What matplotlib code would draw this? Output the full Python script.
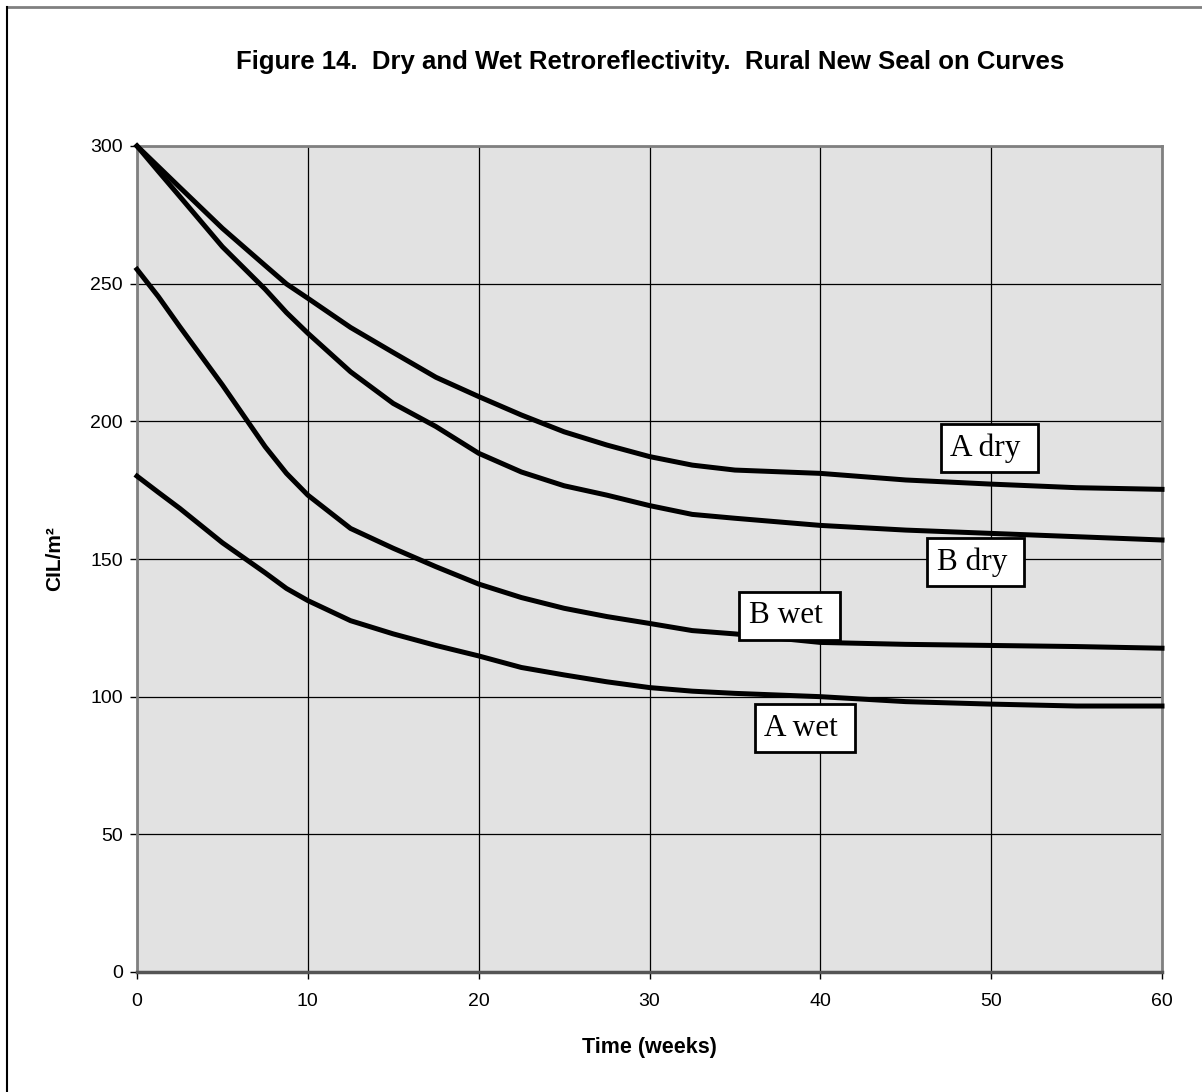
import matplotlib.pyplot as plt
from matplotlib.lines import Line2D

# weeks at which each curve was read
weeks = [0, 1.25, 2.5, 5, 7.5, 8.75, 10, 12.5, 15, 17.5, 20, 22.5, 25, 27.5,
         30, 32.5, 35, 40, 45, 50, 55, 60]

a_dry = [300, 292.5, 285, 270.1, 256.6, 249.9, 244.7, 234.1, 225, 216, 209, 202.3,
         196.2, 191.4, 187.2, 184.1, 182.3, 181.1, 178.7, 177.2, 175.9, 175.3]
b_dry = [300, 290.8, 281.7, 263.4, 248, 239.5, 232.0, 218.0, 206.5, 198.1, 188.4,
         181.6, 176.6, 173.2, 169.4, 166.2, 164.8, 162.2, 160.5, 159.3, 158.1, 156.9]
b_wet = [255.2, 245.3, 234.4, 213.2, 190.8, 181.1, 173.2, 161.1, 153.9, 147.2,
         140.9, 136.0, 132.1, 129.1, 126.6, 124.0, 122.8, 119.7, 119.0, 118.6,
         118.2, 117.6]
a_wet = [180.1, 174.2, 168.4, 155.9, 145, 139.3, 134.9, 127.6, 122.8, 118.6,
         114.8, 110.6, 107.9, 105.4, 103.3, 102.0, 101.2, 100.0, 98.2, 97.3,
         96.6, 96.6]

series = [a_dry, b_dry, b_wet, a_wet]

# curve labels: (text, x, y) box centres in data units
curve_labels = [("A dry ", 49.9, 190.3), ("B dry ", 49.1, 148.9),
                ("B wet ", 38.2, 129.3), ("A wet ", 39.1, 88.6)]

x_ticks = [0, 10, 20, 30, 40, 50, 60]
y_ticks = [0, 50, 100, 150, 200, 250, 300]

fig = plt.figure(figsize=(12.02, 10.92), dpi=100)
ax = fig.add_axes([137 / 1202, 1 - 972 / 1092, (1162 - 137) / 1202, (972 - 146) / 1092])
ax.set_facecolor('#e2e2e2')

for ys in series:
    ax.plot(weeks, ys, color='black', linewidth=3.6, solid_joinstyle='miter',
            zorder=3, clip_on=False)

ax.set_xlim(0, 60)
ax.set_ylim(0, 300)
ax.set_xticks(x_ticks)
ax.set_yticks(y_ticks)
ax.grid(True, color='black', linewidth=0.9)
ax.set_axisbelow(True)
ax.tick_params(axis='both', direction='out', length=5, width=1, labelsize=14,
               color='black')
ax.tick_params(axis='x', pad=10)
ax.tick_params(axis='y', pad=5)

for side in ['top', 'right', 'left']:
    ax.spines[side].set_color('#808080')
    ax.spines[side].set_linewidth(2)
ax.spines['bottom'].set_color('#555555')
ax.spines['bottom'].set_linewidth(2.5)

for lab in ax.get_xticklabels() + ax.get_yticklabels():
    lab.set_family('Liberation Sans')

ax.set_xlabel('Time (weeks)', fontsize=15.5, fontweight='bold',
              family='Liberation Sans', va='center')
ax.xaxis.set_label_coords(0.5, -(1047 - 972) / 826)
ax.set_ylabel('CIL/m²', fontsize=15, fontweight='bold',
              family='Liberation Sans', va='center')
ax.yaxis.set_label_coords(-(137 - 55) / 1025, 0.5)

for text, x, y in curve_labels:
    ax.text(x, y, text, fontsize=22.5, family='Liberation Serif', ha='center',
            va='center', zorder=5,
            bbox=dict(boxstyle='square,pad=0.3', fc='white', ec='black', lw=2))

fig.text(650 / 1202, 1 - 62 / 1092,
         'Figure 14.  Dry and Wet Retroreflectivity.  Rural New Seal on Curves',
         ha='center', va='center', fontsize=18.5, fontweight='bold',
         family='Liberation Sans')

# outer chart frame
fig.add_artist(Line2D([7 / 1202, 1], [1 - 7 / 1092, 1 - 7 / 1092],
                      transform=fig.transFigure, color='#808080', linewidth=2))
fig.add_artist(Line2D([7 / 1202, 7 / 1202], [0, 1 - 7 / 1092],
                      transform=fig.transFigure, color='black', linewidth=1.5))

fig.savefig('out.png', dpi=100)
